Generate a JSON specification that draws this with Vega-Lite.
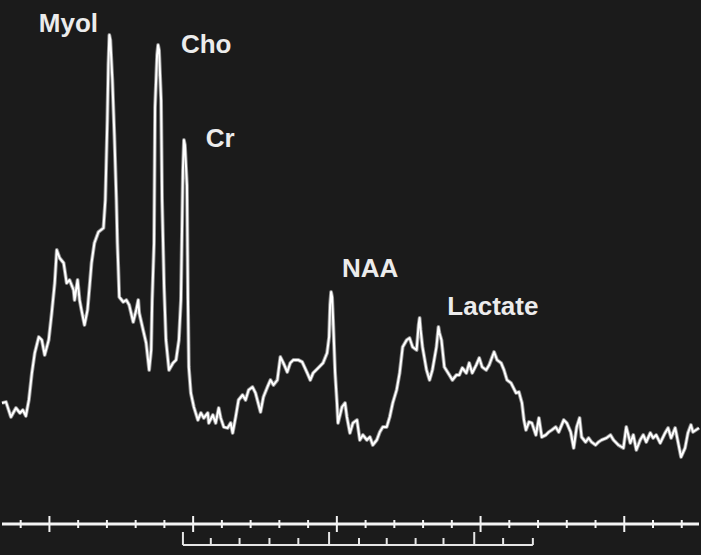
{
  "$schema": "https://vega.github.io/schema/vega-lite/v6.json",
  "width": 701,
  "height": 555,
  "autosize": {"type": "fit", "contains": "padding"},
  "padding": 0,
  "background": "#1b1b1b",
  "config": {"view": {"stroke": null}},
  "datasets": {
    "spectrum": [
      {"ppm": 4.330, "signal": 152}, {"ppm": 4.302, "signal": 153}, {"ppm": 4.268, "signal": 138}, {"ppm": 4.233, "signal": 147},
      {"ppm": 4.205, "signal": 142}, {"ppm": 4.185, "signal": 145}, {"ppm": 4.164, "signal": 139}, {"ppm": 4.143, "signal": 155},
      {"ppm": 4.122, "signal": 182}, {"ppm": 4.102, "signal": 202}, {"ppm": 4.074, "signal": 218}, {"ppm": 4.053, "signal": 215},
      {"ppm": 4.033, "signal": 200}, {"ppm": 4.005, "signal": 215}, {"ppm": 3.984, "signal": 242}, {"ppm": 3.963, "signal": 272},
      {"ppm": 3.949, "signal": 305}, {"ppm": 3.929, "signal": 297}, {"ppm": 3.901, "signal": 292}, {"ppm": 3.880, "signal": 272},
      {"ppm": 3.860, "signal": 275}, {"ppm": 3.832, "signal": 265}, {"ppm": 3.825, "signal": 255}, {"ppm": 3.804, "signal": 275},
      {"ppm": 3.790, "signal": 255}, {"ppm": 3.777, "signal": 245}, {"ppm": 3.756, "signal": 230}, {"ppm": 3.735, "signal": 245},
      {"ppm": 3.721, "signal": 268}, {"ppm": 3.707, "signal": 292}, {"ppm": 3.687, "signal": 312}, {"ppm": 3.659, "signal": 323},
      {"ppm": 3.624, "signal": 327}, {"ppm": 3.611, "signal": 355}, {"ppm": 3.597, "signal": 435}, {"ppm": 3.590, "signal": 490},
      {"ppm": 3.583, "signal": 520}, {"ppm": 3.576, "signal": 515}, {"ppm": 3.562, "signal": 475}, {"ppm": 3.548, "signal": 420},
      {"ppm": 3.534, "signal": 355}, {"ppm": 3.527, "signal": 312}, {"ppm": 3.521, "signal": 288}, {"ppm": 3.514, "signal": 258},
      {"ppm": 3.486, "signal": 253}, {"ppm": 3.465, "signal": 255}, {"ppm": 3.445, "signal": 250}, {"ppm": 3.417, "signal": 233},
      {"ppm": 3.396, "signal": 245}, {"ppm": 3.382, "signal": 255}, {"ppm": 3.375, "signal": 242}, {"ppm": 3.348, "signal": 225},
      {"ppm": 3.327, "signal": 212}, {"ppm": 3.306, "signal": 185}, {"ppm": 3.292, "signal": 205}, {"ppm": 3.285, "signal": 255},
      {"ppm": 3.272, "signal": 312}, {"ppm": 3.265, "signal": 448}, {"ppm": 3.251, "signal": 500}, {"ppm": 3.244, "signal": 510},
      {"ppm": 3.237, "signal": 505}, {"ppm": 3.223, "signal": 455}, {"ppm": 3.216, "signal": 355}, {"ppm": 3.202, "signal": 268},
      {"ppm": 3.189, "signal": 215}, {"ppm": 3.168, "signal": 185}, {"ppm": 3.140, "signal": 192}, {"ppm": 3.119, "signal": 195},
      {"ppm": 3.099, "signal": 215}, {"ppm": 3.085, "signal": 255}, {"ppm": 3.071, "signal": 385}, {"ppm": 3.064, "signal": 415},
      {"ppm": 3.057, "signal": 410}, {"ppm": 3.043, "signal": 370}, {"ppm": 3.036, "signal": 255}, {"ppm": 3.030, "signal": 188},
      {"ppm": 3.016, "signal": 162}, {"ppm": 2.995, "signal": 148}, {"ppm": 2.967, "signal": 135}, {"ppm": 2.946, "signal": 142},
      {"ppm": 2.926, "signal": 137}, {"ppm": 2.898, "signal": 142}, {"ppm": 2.891, "signal": 132}, {"ppm": 2.863, "signal": 140},
      {"ppm": 2.843, "signal": 132}, {"ppm": 2.822, "signal": 147}, {"ppm": 2.808, "signal": 137}, {"ppm": 2.787, "signal": 128},
      {"ppm": 2.760, "signal": 127}, {"ppm": 2.739, "signal": 132}, {"ppm": 2.725, "signal": 122}, {"ppm": 2.704, "signal": 138},
      {"ppm": 2.684, "signal": 155}, {"ppm": 2.656, "signal": 160}, {"ppm": 2.635, "signal": 155}, {"ppm": 2.614, "signal": 165},
      {"ppm": 2.587, "signal": 168}, {"ppm": 2.566, "signal": 162}, {"ppm": 2.531, "signal": 143}, {"ppm": 2.511, "signal": 158},
      {"ppm": 2.483, "signal": 168}, {"ppm": 2.462, "signal": 175}, {"ppm": 2.441, "signal": 170}, {"ppm": 2.414, "signal": 175},
      {"ppm": 2.393, "signal": 198}, {"ppm": 2.372, "signal": 192}, {"ppm": 2.345, "signal": 183}, {"ppm": 2.324, "signal": 192},
      {"ppm": 2.303, "signal": 195}, {"ppm": 2.268, "signal": 195}, {"ppm": 2.241, "signal": 193}, {"ppm": 2.206, "signal": 182},
      {"ppm": 2.185, "signal": 175}, {"ppm": 2.165, "signal": 182}, {"ppm": 2.130, "signal": 187}, {"ppm": 2.096, "signal": 192},
      {"ppm": 2.068, "signal": 202}, {"ppm": 2.054, "signal": 218}, {"ppm": 2.047, "signal": 250}, {"ppm": 2.040, "signal": 263},
      {"ppm": 2.033, "signal": 258}, {"ppm": 2.026, "signal": 235}, {"ppm": 2.012, "signal": 182}, {"ppm": 1.999, "signal": 152},
      {"ppm": 1.992, "signal": 132}, {"ppm": 1.964, "signal": 148}, {"ppm": 1.943, "signal": 152}, {"ppm": 1.930, "signal": 138},
      {"ppm": 1.909, "signal": 122}, {"ppm": 1.888, "signal": 132}, {"ppm": 1.860, "signal": 135}, {"ppm": 1.840, "signal": 115},
      {"ppm": 1.819, "signal": 120}, {"ppm": 1.791, "signal": 115}, {"ppm": 1.770, "signal": 118}, {"ppm": 1.750, "signal": 110},
      {"ppm": 1.722, "signal": 115}, {"ppm": 1.701, "signal": 123}, {"ppm": 1.680, "signal": 128}, {"ppm": 1.653, "signal": 128},
      {"ppm": 1.632, "signal": 138}, {"ppm": 1.611, "signal": 152}, {"ppm": 1.584, "signal": 165}, {"ppm": 1.563, "signal": 182},
      {"ppm": 1.542, "signal": 208}, {"ppm": 1.514, "signal": 215}, {"ppm": 1.494, "signal": 217}, {"ppm": 1.473, "signal": 208},
      {"ppm": 1.445, "signal": 205}, {"ppm": 1.431, "signal": 230}, {"ppm": 1.424, "signal": 237}, {"ppm": 1.417, "signal": 225},
      {"ppm": 1.404, "signal": 208}, {"ppm": 1.376, "signal": 185}, {"ppm": 1.355, "signal": 175}, {"ppm": 1.335, "signal": 185},
      {"ppm": 1.307, "signal": 208}, {"ppm": 1.293, "signal": 228}, {"ppm": 1.286, "signal": 222}, {"ppm": 1.272, "signal": 215},
      {"ppm": 1.252, "signal": 188}, {"ppm": 1.217, "signal": 180}, {"ppm": 1.196, "signal": 175}, {"ppm": 1.168, "signal": 180},
      {"ppm": 1.148, "signal": 180}, {"ppm": 1.127, "signal": 187}, {"ppm": 1.099, "signal": 182}, {"ppm": 1.079, "signal": 192},
      {"ppm": 1.058, "signal": 182}, {"ppm": 1.030, "signal": 190}, {"ppm": 1.009, "signal": 197}, {"ppm": 0.989, "signal": 188},
      {"ppm": 0.961, "signal": 185}, {"ppm": 0.940, "signal": 190}, {"ppm": 0.906, "signal": 203}, {"ppm": 0.885, "signal": 195},
      {"ppm": 0.857, "signal": 192}, {"ppm": 0.837, "signal": 185}, {"ppm": 0.816, "signal": 175}, {"ppm": 0.788, "signal": 172},
      {"ppm": 0.753, "signal": 162}, {"ppm": 0.733, "signal": 163}, {"ppm": 0.712, "signal": 152}, {"ppm": 0.698, "signal": 135},
      {"ppm": 0.684, "signal": 125}, {"ppm": 0.663, "signal": 133}, {"ppm": 0.643, "signal": 132}, {"ppm": 0.615, "signal": 120},
      {"ppm": 0.594, "signal": 137}, {"ppm": 0.574, "signal": 118}, {"ppm": 0.546, "signal": 120}, {"ppm": 0.525, "signal": 123},
      {"ppm": 0.504, "signal": 125}, {"ppm": 0.477, "signal": 128}, {"ppm": 0.456, "signal": 123}, {"ppm": 0.421, "signal": 135},
      {"ppm": 0.400, "signal": 132}, {"ppm": 0.373, "signal": 123}, {"ppm": 0.352, "signal": 107}, {"ppm": 0.331, "signal": 128},
      {"ppm": 0.311, "signal": 137}, {"ppm": 0.297, "signal": 118}, {"ppm": 0.269, "signal": 113}, {"ppm": 0.248, "signal": 117},
      {"ppm": 0.228, "signal": 113}, {"ppm": 0.200, "signal": 110}, {"ppm": 0.179, "signal": 113}, {"ppm": 0.158, "signal": 115},
      {"ppm": 0.124, "signal": 117}, {"ppm": 0.096, "signal": 120}, {"ppm": 0.075, "signal": 115}, {"ppm": 0.041, "signal": 110},
      {"ppm": 0.006, "signal": 107}, {"ppm": -0.014, "signal": 128}, {"ppm": -0.042, "signal": 112}, {"ppm": -0.063, "signal": 120},
      {"ppm": -0.084, "signal": 105}, {"ppm": -0.111, "signal": 115}, {"ppm": -0.132, "signal": 120}, {"ppm": -0.153, "signal": 113},
      {"ppm": -0.181, "signal": 122}, {"ppm": -0.201, "signal": 117}, {"ppm": -0.222, "signal": 120}, {"ppm": -0.250, "signal": 112},
      {"ppm": -0.284, "signal": 122}, {"ppm": -0.305, "signal": 127}, {"ppm": -0.326, "signal": 117}, {"ppm": -0.354, "signal": 127},
      {"ppm": -0.360, "signal": 123}, {"ppm": -0.374, "signal": 113}, {"ppm": -0.395, "signal": 98}, {"ppm": -0.423, "signal": 107},
      {"ppm": -0.443, "signal": 122}, {"ppm": -0.464, "signal": 130}, {"ppm": -0.478, "signal": 123}, {"ppm": -0.499, "signal": 125},
      {"ppm": -0.520, "signal": 127}
    ],
    "scaleLine": [
      {"from": 4.33, "to": -0.52, "level": 31}
    ],
    "scaleTicks": [
      {"ppm": 4.2, "lo": 27, "hi": 35}, {"ppm": 4.0, "lo": 23, "hi": 39}, {"ppm": 3.8, "lo": 27, "hi": 35},
      {"ppm": 3.6, "lo": 27, "hi": 35}, {"ppm": 3.4, "lo": 27, "hi": 35}, {"ppm": 3.2, "lo": 27, "hi": 35},
      {"ppm": 3.0, "lo": 23, "hi": 39}, {"ppm": 2.8, "lo": 27, "hi": 35}, {"ppm": 2.6, "lo": 27, "hi": 35},
      {"ppm": 2.4, "lo": 27, "hi": 35}, {"ppm": 2.2, "lo": 27, "hi": 35}, {"ppm": 2.0, "lo": 23, "hi": 39},
      {"ppm": 1.8, "lo": 27, "hi": 35}, {"ppm": 1.6, "lo": 27, "hi": 35}, {"ppm": 1.4, "lo": 27, "hi": 35},
      {"ppm": 1.2, "lo": 27, "hi": 35}, {"ppm": 1.0, "lo": 23, "hi": 39}, {"ppm": 0.8, "lo": 27, "hi": 35},
      {"ppm": 0.6, "lo": 27, "hi": 35}, {"ppm": 0.4, "lo": 27, "hi": 35}, {"ppm": 0.2, "lo": 27, "hi": 35},
      {"ppm": 0.0, "lo": 23, "hi": 39}, {"ppm": -0.2, "lo": 27, "hi": 35}, {"ppm": -0.4, "lo": 27, "hi": 35}
    ],
    "bracketLine": [
      {"from": 3.071, "to": 0.636, "level": 10}
    ],
    "bracketTicks": [
      {"ppm": 3.071, "lo": 10, "hi": 23}, {"ppm": 2.877, "lo": 10, "hi": 17}, {"ppm": 2.677, "lo": 10, "hi": 17},
      {"ppm": 2.469, "lo": 10, "hi": 17}, {"ppm": 2.268, "lo": 10, "hi": 17}, {"ppm": 2.054, "lo": 10, "hi": 23},
      {"ppm": 1.846, "lo": 10, "hi": 17}, {"ppm": 1.653, "lo": 10, "hi": 17}, {"ppm": 1.452, "lo": 10, "hi": 17},
      {"ppm": 1.258, "lo": 10, "hi": 17}, {"ppm": 1.044, "lo": 10, "hi": 23}, {"ppm": 0.843, "lo": 10, "hi": 17},
      {"ppm": 0.636, "lo": 10, "hi": 17}
    ],
    "labels": [
      {"ppm": 4.074, "signal": 523, "name": "Myol"},
      {"ppm": 3.085, "signal": 502, "name": "Cho"},
      {"ppm": 2.912, "signal": 408, "name": "Cr"},
      {"ppm": 1.964, "signal": 278, "name": "NAA"},
      {"ppm": 1.231, "signal": 240, "name": "Lactate"}
    ]
  },
  "layer": [
    {
      "data": {"name": "spectrum"},
      "mark": {"type": "line", "color": "#8c8c8c", "strokeWidth": 3.8, "strokeJoin": "round"},
      "encoding": {
        "x": {"field": "ppm", "type": "quantitative", "scale": {"domain": [-0.52, 4.33], "reverse": true, "nice": false, "zero": false}, "axis": null},
        "y": {"field": "signal", "type": "quantitative", "scale": {"domain": [0, 555], "nice": false, "zero": false}, "axis": null},
        "order": {"field": "ppm", "sort": "descending"}
      }
    },
    {
      "data": {"name": "spectrum"},
      "mark": {"type": "line", "color": "#ffffff", "strokeWidth": 2, "strokeJoin": "round"},
      "encoding": {
        "x": {"field": "ppm", "type": "quantitative"},
        "y": {"field": "signal", "type": "quantitative"},
        "order": {"field": "ppm", "sort": "descending"}
      }
    },
    {
      "data": {"name": "scaleLine"},
      "mark": {"type": "rule", "color": "#f4f4f4", "strokeWidth": 3.2},
      "encoding": {
        "x": {"field": "from", "type": "quantitative"},
        "x2": {"field": "to"},
        "y": {"field": "level", "type": "quantitative"}
      }
    },
    {
      "data": {"name": "scaleTicks"},
      "mark": {"type": "rule", "color": "#f4f4f4", "strokeWidth": 2},
      "encoding": {
        "x": {"field": "ppm", "type": "quantitative"},
        "y": {"field": "lo", "type": "quantitative"},
        "y2": {"field": "hi"}
      }
    },
    {
      "data": {"name": "bracketLine"},
      "mark": {"type": "rule", "color": "#e6e6e6", "strokeWidth": 2},
      "encoding": {
        "x": {"field": "from", "type": "quantitative"},
        "x2": {"field": "to"},
        "y": {"field": "level", "type": "quantitative"}
      }
    },
    {
      "data": {"name": "bracketTicks"},
      "mark": {"type": "rule", "color": "#e6e6e6", "strokeWidth": 2},
      "encoding": {
        "x": {"field": "ppm", "type": "quantitative"},
        "y": {"field": "lo", "type": "quantitative"},
        "y2": {"field": "hi"}
      }
    },
    {
      "data": {"name": "labels"},
      "mark": {"type": "text", "align": "left", "baseline": "alphabetic", "font": "Liberation Sans", "fontSize": 26, "fontWeight": "bold", "color": "#ececec"},
      "encoding": {
        "x": {"field": "ppm", "type": "quantitative"},
        "y": {"field": "signal", "type": "quantitative"},
        "text": {"field": "name"}
      }
    }
  ]
}
